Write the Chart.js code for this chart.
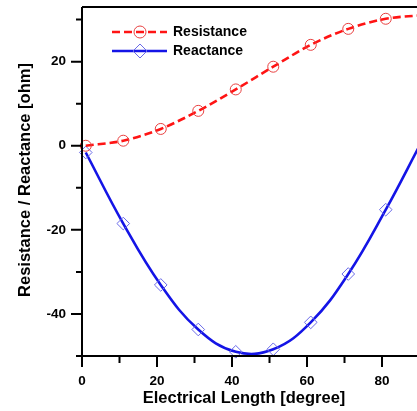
<!DOCTYPE html>
<html>
<head>
<meta charset="utf-8">
<script src="https://cdn.jsdelivr.net/npm/chart.js@4/dist/chart.umd.min.js"></script>
<style>
  html, body { margin: 0; padding: 0; background: #fff; }
  #wrap { position: relative; width: 417px; height: 411px; }
</style>
</head>
<body>
<div id="wrap"><canvas id="chart"></canvas></div>
<script>
// values (last point = where the curves leave the frame)
const angles = [1, 11, 21, 31, 41, 51, 61, 71, 81, 90];
const resistance = [0, 1.2, 4.0, 8.3, 13.4, 18.8, 24.0, 27.8, 30.2, 31.0];
const reactance = [-1.6, -18.5, -33.1, -43.7, -49.0, -48.4, -42.0, -30.5, -15.2, 0];
const xMajor = [0, 20, 40, 60, 80];
const xMinor = [10, 30, 50, 70];
const yMajor = [-40, -20, 0, 20];
const yMinor = [-50, -30, -10, 10, 30];

const FONT = "'Liberation Sans', Arial, sans-serif";
const markerR = angles.map((a, i) => (i < angles.length - 1 ? 5.5 : 0));

const axesPlugin = {
  id: "axesPlugin",
  afterDraw(chart) {
    const { ctx, chartArea: a, scales } = chart;
    const x = scales.x, y = scales.y;
    ctx.save();
    ctx.strokeStyle = "#000";
    ctx.lineWidth = 2;
    ctx.beginPath();
    ctx.moveTo(a.left, a.top);
    ctx.lineTo(chart.width, a.top);
    ctx.moveTo(a.left, a.top);
    ctx.lineTo(a.left, a.bottom);
    ctx.lineTo(chart.width, a.bottom);
    ctx.stroke();

    ctx.beginPath();
    xMajor.forEach(v => { const p = x.getPixelForValue(v); ctx.moveTo(p, a.bottom); ctx.lineTo(p, a.bottom + 11); });
    xMinor.forEach(v => { const p = x.getPixelForValue(v); ctx.moveTo(p, a.bottom); ctx.lineTo(p, a.bottom + 7); });
    yMajor.forEach(v => { const p = y.getPixelForValue(v); ctx.moveTo(a.left, p); ctx.lineTo(a.left - 11, p); });
    yMinor.forEach(v => { const p = y.getPixelForValue(v); ctx.moveTo(a.left, p); ctx.lineTo(a.left - 6, p); });
    ctx.stroke();

    // tick labels
    ctx.fillStyle = "#000";
    ctx.font = "bold 13.5px " + FONT;
    ctx.textAlign = "center";
    ctx.textBaseline = "middle";
    xMajor.forEach(v => ctx.fillText(String(v), x.getPixelForValue(v), 381));
    ctx.textAlign = "right";
    yMajor.forEach(v => ctx.fillText(String(v), 66, y.getPixelForValue(v)));

    // axis titles
    ctx.font = "bold 16.5px " + FONT;
    ctx.textAlign = "center";
    ctx.fillText("Electrical Length [degree]", 244, 398);
    ctx.translate(25, 180);
    ctx.rotate(-Math.PI / 2);
    ctx.fillText("Resistance / Reactance [ohm]", 0, 0);
    ctx.restore();

    // legend
    ctx.save();
    const rows = [{ y: 32, ds: chart.data.datasets[0] }, { y: 51, ds: chart.data.datasets[1] }];
    rows.forEach(r => {
      ctx.strokeStyle = r.ds.borderColor;
      ctx.lineWidth = r.ds.borderWidth;
      ctx.setLineDash(r.ds.borderDash || []);
      ctx.beginPath();
      ctx.moveTo(112, r.y);
      ctx.lineTo(167, r.y);
      ctx.stroke();
      ctx.setLineDash([]);
      ctx.strokeStyle = r.ds.pointBorderColor;
      ctx.lineWidth = 1;
      ctx.beginPath();
      if (r.ds.pointStyle === "circle") {
        ctx.arc(140, r.y, 6, 0, Math.PI * 2);
      } else {
        ctx.moveTo(140, r.y - 7); ctx.lineTo(147, r.y); ctx.lineTo(140, r.y + 7); ctx.lineTo(133, r.y); ctx.closePath();
      }
      ctx.stroke();
      ctx.fillStyle = "#000";
      ctx.font = "bold 14px " + FONT;
      ctx.textAlign = "left";
      ctx.textBaseline = "middle";
      ctx.fillText(r.ds.label, 173, r.y);
    });
    ctx.restore();
  }
};

new Chart(document.getElementById("chart"), {
  type: "line",
  data: {
    datasets: [
      {
        label: "Resistance",
        data: angles.map((a, i) => ({ x: a, y: resistance[i] })),
        borderColor: "#ff1414",
        borderWidth: 2.6,
        borderDash: [8, 4],
        cubicInterpolationMode: "monotone",
        pointStyle: "circle",
        pointRadius: markerR,
        pointBorderColor: "#e84040",
        pointBackgroundColor: "rgba(0,0,0,0)",
        pointBorderWidth: 1,
        clip: false,
      },
      {
        label: "Reactance",
        data: angles.map((a, i) => ({ x: a, y: reactance[i] })),
        borderColor: "#1414e6",
        borderWidth: 2.6,
        tension: 0.4,
        pointStyle: "rectRot",
        pointRadius: markerR.map(r => r * 1.15),
        pointBorderColor: "#6a6ae8",
        pointBackgroundColor: "rgba(0,0,0,0)",
        pointBorderWidth: 1,
        clip: false,
      },
    ],
  },
  options: {
    responsive: true,
    maintainAspectRatio: false,
    animation: false,
    layout: { autoPadding: false, padding: { top: 7, right: 0, left: 0, bottom: 0 } },
    plugins: { legend: { display: false }, tooltip: { enabled: false } },
    scales: {
      x: {
        type: "linear",
        min: 0,
        max: 89.33,
        grid: { display: false, drawTicks: false },
        border: { display: false },
        ticks: { display: false },
        afterFit: s => { s.height = 55; },
      },
      y: {
        type: "linear",
        min: -50,
        max: 33,
        grid: { display: false, drawTicks: false },
        border: { display: false },
        ticks: { display: false },
        afterFit: s => { s.width = 82; },
      },
    },
  },
  plugins: [axesPlugin],
});
</script>
</body>
</html>
